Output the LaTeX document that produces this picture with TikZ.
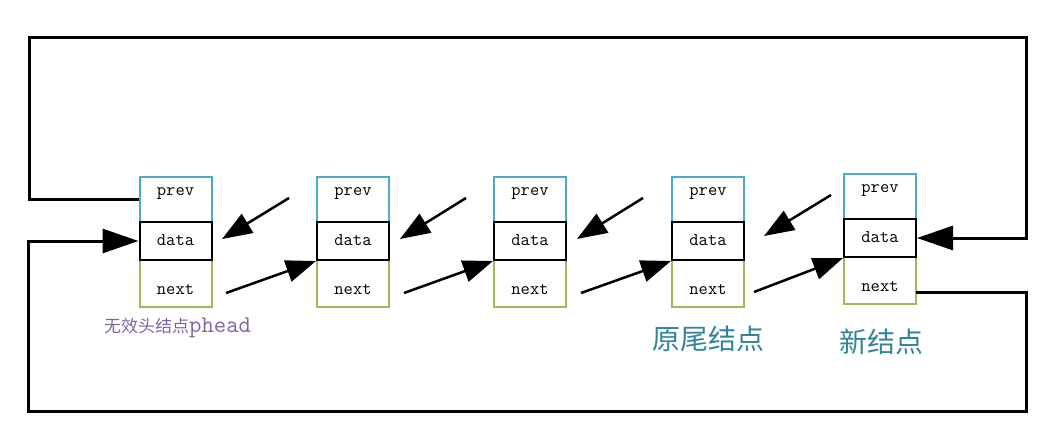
\documentclass[tikz,border=0pt]{standalone}
\usepackage{fontspec}
\setmainfont{Liberation Serif}
\newfontfamily\cjk{Noto Sans CJK SC}
\usetikzlibrary{arrows.meta}
\definecolor{cellteal}{HTML}{4BACC6}
\definecolor{cellgreen}{HTML}{9BBB59}
\definecolor{lblpurple}{HTML}{8064A2}
\definecolor{lblteal}{HTML}{31849B}
\tikzset{
  cell/.style={draw, line width=2pt, minimum width=72pt, inner sep=0pt, anchor=north},
  prevcell/.style={cell, draw=cellteal, minimum height=45pt},
  datacell/.style={cell, draw=black, minimum height=38pt},
  nextcell/.style={cell, draw=cellgreen, minimum height=47pt},
  celltxt/.style={font=\ttfamily\fontsize{18}{18}\selectfont, inner sep=0pt},
  link/.style={line width=2.5pt, -{Triangle[length=30pt,width=22pt]}},
  loop/.style={line width=3pt, line join=miter},
  looparrow/.style={loop, -{Triangle[length=36pt,width=24pt]}},
}
\begin{document}
\begin{tikzpicture}[x=1pt,y=-1pt]
\useasboundingbox (0,0) rectangle (1059,447);
% cells
\foreach \i/\x/\t in {1/175.5/176,2/353/176,3/530/176,4/708/176,5/880/173}{
  \node[prevcell] (p\i) at (\x,\t) {};
  \node[nextcell] (n\i) at (\x,\t+83) {};
  \node[datacell] (d\i) at (\x,\t+45) {};
  \node[celltxt] (tp\i) at (\x,\t+18) {prev};
  \node[celltxt] (td\i) at (\x,\t+64) {data};
  \node[celltxt] (tn\i) at (\x,\t+114) {next};
}
% free ends
\coordinate (a1) at (289,198);
\coordinate (a2) at (466,198);
\coordinate (a3) at (643,198);
\coordinate (a4) at (831,195);
\coordinate (e1) at (222,239);
\coordinate (e2) at (400,239);
\coordinate (e3) at (577,239);
\coordinate (e4) at (764,236);
\coordinate (s1) at (226,293);
\coordinate (s2) at (404,293);
\coordinate (s3) at (581,293);
\coordinate (s4) at (754,292);
\coordinate (b0) at (916,292);
\draw[link] (a1) -- (e1);
\draw[link] (a2) -- (e2);
\draw[link] (a3) -- (e3);
\draw[link] (a4) -- (e4);
\draw[link] (s1) -- (d2.south west);
\draw[link] (s2) -- (d3.south west);
\draw[link] (s3) -- (d4.south west);
\draw[link] (s4) -- (d5.south west);
% loops
\draw[looparrow] (p1.west) -- ++(-109,0) |- (1026,37) |- (d5.east);
\draw[looparrow] (b0) -- (1026,292) -- (1026,411) -- (28,411) |- (d1.west);
% labels
\node[text=lblpurple, inner sep=0pt, anchor=west] (lh) at (104,328) {\cjk\fontsize{17}{17}\selectfont 无效头结点\ttfamily\fontsize{24}{24}\selectfont phead};
\node[text=lblteal, inner sep=0pt] (lt) at (708,339) {\cjk\fontsize{28}{28}\selectfont 原尾结点};
\node[text=lblteal, inner sep=0pt] (ln) at (881,342) {\cjk\fontsize{28}{28}\selectfont 新结点};
\end{tikzpicture}
\end{document}
